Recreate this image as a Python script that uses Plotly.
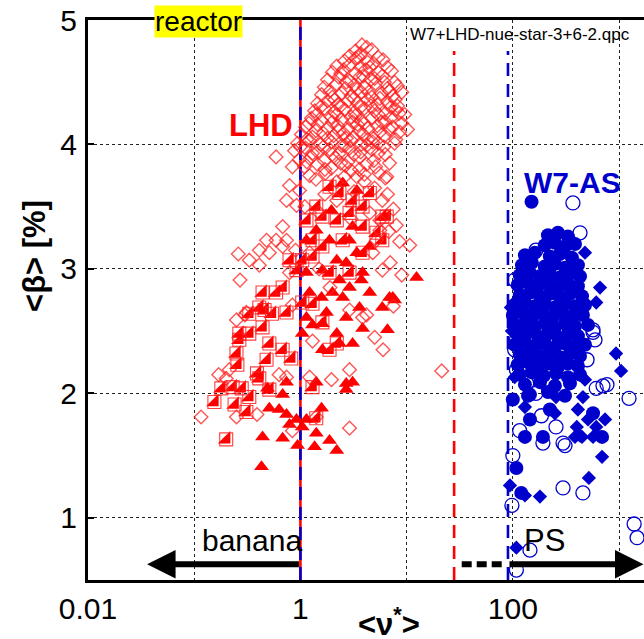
import math
import plotly.graph_objects as go

# ---------------- data (nu*, <beta> [%]) ----------------
lhd_diamonds = [
    (3.8,4.80),(4.2,4.78),(3.3,4.75),(4.7,4.76),(2.9,4.71),(3.7,4.73),(5.4,4.70),
    (2.6,4.67),(3.3,4.69),(4.3,4.66),(6.0,4.68),
    (2.2,4.63),(2.9,4.64),(3.7,4.62),(4.9,4.65),(6.6,4.62),
    (2.0,4.58),(2.55,4.60),(3.3,4.57),(4.1,4.60),(5.4,4.58),(7.2,4.59),
    (1.8,4.52),(2.3,4.54),(2.9,4.51),(3.6,4.54),(4.6,4.52),(5.9,4.55),(7.7,4.50),
    (1.68,4.46),(2.15,4.48),(2.65,4.45),(3.23,4.48),(4.0,4.46),(5.1,4.49),(6.6,4.45),(8.2,4.47),
    (1.58,4.40),(2.0,4.38),(2.45,4.41),(3.0,4.39),(3.75,4.42),(4.7,4.38),(5.8,4.41),(7.4,4.39),(9.0,4.42),
    (1.45,4.33),(1.8,4.35),(2.25,4.32),(2.8,4.35),(3.45,4.33),(4.3,4.36),(5.3,4.32),(6.6,4.34),(8.2,4.31),
    (1.36,4.27),(1.68,4.29),(2.09,4.26),(2.6,4.28),(3.23,4.26),(4.0,4.29),(5.0,4.27),(6.3,4.25),(7.9,4.28),(9.6,4.24),
    (1.27,4.21),(1.58,4.19),(1.96,4.22),(2.45,4.20),(3.0,4.22),(3.75,4.19),(4.7,4.21),(5.8,4.18),(7.2,4.22),(9.0,4.17),
    (1.12,4.14),(1.45,4.16),(1.8,4.13),(2.25,4.15),(2.8,4.12),(3.45,4.16),(4.3,4.13),(5.3,4.15),(6.9,4.12),(8.6,4.10),
    (1.02,4.08),(1.3,4.06),(1.65,4.09),(2.05,4.07),(2.55,4.09),(3.15,4.06),(3.9,4.08),(4.9,4.05),(6.2,4.07),(7.9,4.04),
    (0.94,4.01),(1.22,4.03),(1.55,4.00),(1.96,4.02),(2.45,3.99),(3.0,4.03),(3.75,4.00),(4.8,4.02),(6.1,3.98),(7.7,4.01),
    (0.88,3.95),(1.12,3.97),(1.45,3.94),(1.88,3.96),(2.33,3.93),(2.9,3.97),(3.7,3.94),(4.7,3.96),(6.3,3.92),
    (0.98,3.88),(1.27,3.90),(1.68,3.87),(2.15,3.89),(2.8,3.86),(3.6,3.90),(4.9,3.87),(6.9,3.85),
    (1.09,3.82),(1.45,3.84),(1.96,3.81),(2.65,3.83),(3.6,3.80),(5.1,3.82),
    (1.22,3.75),(1.72,3.77),(2.6,3.74),(4.0,3.76),(6.3,3.73),
    (3.5,4.70),(4.5,4.62),(2.4,4.57),(3.9,4.55),(5.0,4.53),(2.7,4.50),(6.2,4.50),(1.9,4.43),
    (3.4,4.44),(4.4,4.42),(6.9,4.43),(2.1,4.36),(3.2,4.37),(5.6,4.37),(7.8,4.36),(1.55,4.30),
    (2.4,4.31),(3.7,4.30),(4.6,4.31),(7.1,4.30),(1.42,4.24),(2.2,4.24),(3.3,4.23),(5.4,4.24),
    (8.5,4.25),(1.2,4.17),(2.0,4.18),(3.1,4.18),(4.0,4.17),(6.3,4.18),(1.4,4.11),(2.3,4.11),
    (3.6,4.11),(5.6,4.10),(1.15,4.04),(1.8,4.05),(2.7,4.05),(4.3,4.04),(5.4,4.01),(1.0,3.98),
    (1.65,3.98),(2.6,3.99),(4.2,3.99),(1.3,3.93),(2.0,3.92),(3.2,3.92),(5.4,3.93),(1.15,3.86),
    (2.4,3.85),(4.2,3.84),(1.7,3.80),(3.0,3.79),(1.4,3.72),(2.2,3.70),(3.4,3.74),(5.5,3.77),
    (0.59,3.90),(0.79,3.67),(0.84,3.82),(0.98,3.63),(0.74,3.55),(0.92,3.51),
    (8.6,3.22),(10.7,3.19),(6.5,3.74),(5.9,3.55),(7.4,4.14),(10.2,4.12),
    (0.68,3.34),(0.74,3.23),(0.59,3.23),(0.48,3.23),(0.41,3.15),(0.51,3.13),(0.68,3.18),(1.22,3.13),
    (5.2,3.23),(5.6,3.39),(5.6,3.31),(4.8,3.13),(5.9,2.99),(0.27,2.91),(0.31,2.65),(0.25,2.59),(0.79,2.97),
    (2.9,2.67),(3.85,2.61),(0.30,2.63),(0.17,2.15),(0.116,1.81),(2.9,1.72),(21.4,2.18),(2.9,2.19),(1.96,2.11),
    (1.22,2.13),(0.63,2.15),(0.74,2.13),(1.3,2.42),(4.2,2.63),(0.84,2.71),(0.25,1.81),(0.39,1.83),(0.84,1.70),
    (1.41,1.81),(0.20,2.12),(0.214,2.19),(0.41,3.03),(0.33,3.07),(0.26,3.12),
    (4.0,3.70),(5.0,3.65),(6.6,3.60),(7.5,3.48),(3.2,3.62),(2.2,3.55),(1.7,3.60),(8.0,3.35),(6.8,3.30),
    (4.5,3.45),(1.5,3.45),(1.1,3.50),(3.0,3.40),(7.0,3.05),(9.0,2.95),(7.5,2.70),(5.0,2.45),(6.0,2.35),
    (1.9,2.85),(1.5,3.00),(0.9,3.15),
]

lhd_halfsquares = [
    (0.155,1.93),(0.20,1.63),(0.24,1.91),(0.266,2.43),(0.25,2.32),(0.31,1.85),(0.33,2.48),(0.44,2.53),
    (0.51,2.40),(0.46,2.67),(0.74,2.65),(0.68,2.35),(0.82,2.28),(0.255,2.23),(0.28,2.04),(0.18,2.04),
    (0.23,2.05),(0.41,2.12),(0.51,2.03),(0.33,1.97),(1.61,2.57),(1.30,2.72),(1.88,2.35),(2.2,2.40),
    (0.48,2.27),(0.39,2.16),(1.41,1.80),(1.3,2.05),(1.04,2.73),
    (1.41,3.50),(1.88,3.66),(2.33,3.61),(3.1,3.55),(3.85,3.50),(4.5,3.61),(5.9,3.42),(1.61,3.42),
    (1.14,3.39),(1.3,3.23),(1.61,3.18),(2.5,3.23),(2.2,3.39),(2.9,3.45),(3.85,3.34),(1.3,3.10),
    (1.04,3.07),(1.88,2.97),(2.9,2.97),(3.85,3.13),(5.2,3.29),(5.9,3.23),(6.5,3.42),(0.79,3.07),
    (0.92,2.99),(0.59,2.81),(0.68,2.85),(0.44,2.81),(0.41,2.69),(0.54,2.64),(0.33,2.64),(0.266,2.48),
]

lhd_triangles = [
    (0.44,1.65),(0.68,1.64),(0.94,1.58),(1.36,1.57),(1.88,1.62),(2.2,1.54),(1.41,1.68),(0.51,1.88),
    (0.63,1.87),(0.74,1.83),(0.92,1.79),(0.79,1.75),(1.04,1.73),(1.14,1.79),(1.58,1.88),(1.41,2.09),
    (0.74,2.09),(0.68,1.99),(0.49,2.04),(2.7,2.08),(3.1,2.09),(2.7,2.03),(3.1,2.40),(2.33,2.40),
    (3.85,2.52),(6.6,2.51),(5.9,2.69),(3.6,2.69),(7.7,2.75),(1.76,2.65),(1.04,2.48),(1.3,2.55),
    (1.61,2.35),(12.4,2.93),(6.9,2.77),(7.4,2.77),(4.5,2.81),(3.75,2.91),(2.9,2.85),(2.5,2.77),
    (2.0,2.81),(1.58,2.77),(1.14,2.61),(2.7,2.61),(1.61,2.56),(2.2,2.48),(3.85,2.97),(4.5,3.18),
    (2.9,3.23),(3.4,3.13),(3.1,3.34),(1.96,3.47),(1.41,3.31),(1.88,3.23),(1.14,3.23),(1.14,2.97),
    (1.61,2.99),(2.2,3.07),(2.7,3.05),(2.33,2.91),(1.22,2.81),(2.5,3.69),(3.4,3.63),(0.43,1.41),
]

w7_filled_circles = [
    (150,3.54),
    (214,3.27),(266,3.29),(330,3.26),
    (200,3.19),(249,3.21),(310,3.18),(385,3.20),
    (130,3.11),(161,3.13),(223,3.10),(277,3.12),(360,3.09),
    (122,3.03),(151,3.05),(200,3.02),(249,3.04),(310,3.01),(410,3.03),
    (116,2.95),(145,2.97),(180,2.94),(223,2.96),(277,2.93),(345,2.96),(429,2.94),
    (111,2.87),(139,2.89),(172,2.86),(214,2.88),(266,2.85),(330,2.88),(410,2.86),
    (116,2.79),(145,2.81),(180,2.78),(223,2.80),(277,2.77),(345,2.80),(448,2.78),
    (104,2.71),(130,2.73),(161,2.70),(200,2.72),(249,2.69),(310,2.72),(385,2.70),(478,2.71),
    (100,2.63),(124,2.65),(154,2.62),(192,2.64),(238,2.61),(297,2.64),(368,2.62),(457,2.63),
    (104,2.55),(130,2.57),(161,2.54),(200,2.56),(249,2.53),(310,2.56),(385,2.54),(510,2.55),
    (111,2.47),(139,2.49),(172,2.46),(214,2.48),(266,2.45),(330,2.48),(410,2.46),
    (104,2.39),(130,2.41),(161,2.38),(200,2.40),(249,2.37),(310,2.40),(385,2.38),(478,2.39),
    (116,2.31),(145,2.33),(180,2.30),(223,2.32),(277,2.29),(345,2.32),(429,2.30),
    (111,2.23),(139,2.25),(172,2.22),(214,2.24),(266,2.21),(330,2.24),(410,2.22),
    (116,2.15),(151,2.17),(195,2.14),(255,2.16),(330,2.13),(429,2.15),
    (130,2.07),(180,2.09),(249,2.06),(345,2.08),
    (145,1.99),(214,2.01),(310,1.98),
    (100,1.95),(139,1.98),(145,1.79),(130,1.65),(223,1.87),(192,1.65),(569,1.84),(692,1.65),
    (108,1.40),(120,1.20),
]

w7_open_circles = [
    (368,3.53),(165,3.15),(104,2.91),(108,2.43),(104,2.35),(345,2.57),(569,2.49),(594,2.43),
    (500,2.27),(770,2.07),(610,2.04),(135,2.08),(165,2.00),(186,1.82),(255,1.73),(297,1.60),
    (192,1.60),(124,2.29),(154,2.24),(108,2.19),(400,2.40),(345,2.99),(429,3.29),(569,2.51),
    (706,2.06),(1242,1.96),(310,1.58),(297,1.24),(457,1.20),(1387,0.95),(1479,0.84),
    (108,0.58),(100,1.50),(116,1.70),(98,1.10),(145,0.74),
]

w7_diamonds = [
    (478,3.13),(662,2.85),(610,2.73),(104,2.73),(98,2.50),(116,2.51),(104,2.13),(130,1.89),
    (255,1.97),(410,1.87),(457,1.97),(400,1.73),(510,1.79),(738,1.79),(385,1.65),(448,1.65),
    (610,1.73),(249,1.84),(937,2.32),(1045,2.18),(478,2.11),(692,1.49),(520,1.32),(429,1.66),
    (569,1.65),(94,1.26),(130,1.18),(180,1.17),(108,0.76),(96,2.69),
]

# reference collisionality lines
nu_banana = 1.0
nu_lhd_ps = 28.0
nu_w7_ps = 90.0
arrow_level = 0.627

x_ticks = [0.01, 1, 100]
x_minor = [0.1, 10, 1000]
y_ticks = [1, 2, 3, 4, 5]

RED = "rgb(255,0,0)"
BLUE = "rgb(0,0,205)"

def xs(pts):
    return [p[0] for p in pts]

def ys(pts):
    return [p[1] for p in pts]

fig = go.Figure()

# vertical reference lines
fig.add_trace(go.Scatter(x=[nu_banana, nu_banana], y=[0.5, 5], mode="lines",
                         line=dict(color=RED, width=2.6), hoverinfo="skip"))
fig.add_trace(go.Scatter(x=[nu_banana, nu_banana], y=[0.5, 5], mode="lines",
                         line=dict(color=BLUE, width=2.6, dash="13px,7px"), hoverinfo="skip"))
fig.add_trace(go.Scatter(x=[nu_lhd_ps, nu_lhd_ps], y=[0.5, 4.75], mode="lines",
                         line=dict(color=RED, width=2.6, dash="13px,8px"), hoverinfo="skip"))
fig.add_trace(go.Scatter(x=[nu_w7_ps, nu_w7_ps], y=[0.5, 4.75], mode="lines",
                         line=dict(color=BLUE, width=2.6, dash="13px,8px"), hoverinfo="skip"))

# LHD
fig.add_trace(go.Scatter(x=xs(lhd_halfsquares), y=ys(lhd_halfsquares), mode="markers",
                         marker=dict(symbol="triangle-se", size=14, color=RED, line=dict(width=0))))
fig.add_trace(go.Scatter(x=xs(lhd_halfsquares), y=ys(lhd_halfsquares), mode="markers",
                         marker=dict(symbol="square-open", size=13, color="rgba(255,30,30,0.85)",
                                     line=dict(width=1.1))))
fig.add_trace(go.Scatter(x=xs(lhd_triangles), y=ys(lhd_triangles), mode="markers",
                         marker=dict(symbol="triangle-up", size=13, color=RED, line=dict(width=0))))
fig.add_trace(go.Scatter(x=xs(lhd_diamonds), y=ys(lhd_diamonds), mode="markers",
                         marker=dict(symbol="diamond-open", size=10.5, color="rgba(255,30,30,0.75)",
                                     line=dict(width=1.4))))

# W7-AS
fig.add_trace(go.Scatter(x=xs(w7_filled_circles), y=ys(w7_filled_circles), mode="markers",
                         marker=dict(symbol="circle", size=14, color=BLUE, line=dict(width=0))))
fig.add_trace(go.Scatter(x=xs(w7_diamonds), y=ys(w7_diamonds), mode="markers",
                         marker=dict(symbol="diamond", size=11, color=BLUE, line=dict(width=0))))
fig.add_trace(go.Scatter(x=xs(w7_open_circles), y=ys(w7_open_circles), mode="markers",
                         marker=dict(symbol="circle-open", size=14, color=BLUE, line=dict(width=1.3))))

# dotted connector between regimes
fig.add_trace(go.Scatter(x=[33, 79], y=[arrow_level, arrow_level], mode="lines",
                         line=dict(color="black", width=6, dash="10px,5px"), hoverinfo="skip"))

L = math.log10
anns = [
    dict(x=L(0.036), y=arrow_level, ax=L(nu_banana), ay=arrow_level, xref="x", yref="y",
         axref="x", ayref="y", showarrow=True, arrowhead=2, arrowsize=0.95, arrowwidth=6,
         arrowcolor="black", text=""),
    dict(x=L(1700), y=arrow_level, ax=L(nu_w7_ps), ay=arrow_level, xref="x", yref="y",
         axref="x", ayref="y", showarrow=True, arrowhead=2, arrowsize=0.95, arrowwidth=6,
         arrowcolor="black", text=""),
    dict(x=L(0.35), y=0.82, xref="x", yref="y", text="banana", showarrow=False,
         font=dict(size=30, color="black")),
    dict(x=L(200), y=0.82, xref="x", yref="y", text="PS", showarrow=False,
         font=dict(size=31, color="black")),
    dict(x=L(0.43), y=4.156, xref="x", yref="y", text="<b>LHD</b>", showarrow=False,
         font=dict(size=31, color=RED)),
    dict(x=L(368), y=3.698, xref="x", yref="y", text="<b>W7-AS</b>", showarrow=False,
         font=dict(size=30, color=BLUE)),
    dict(x=L(0.109), y=4.99, xref="x", yref="y", text="reactor", showarrow=False,
         font=dict(size=28, color="black"), bgcolor="#ffff00", borderpad=0),
    dict(x=L(116), y=4.88, xref="x", yref="y", text="W7+LHD-nue-star-3+6-2.qpc",
         showarrow=False, font=dict(size=17, color="black")),
    dict(x=-0.095, y=0.579, xref="paper", yref="paper", xanchor="center", yanchor="middle",
         text="<b>&lt;β&gt; [%]</b>", textangle=-90, showarrow=False,
         font=dict(size=31, color="black")),
    dict(x=0.541, y=-0.036, xref="paper", yref="paper", xanchor="center", yanchor="top",
         text="<b>&lt;ν<sup>*</sup>&gt;</b>", showarrow=False,
         font=dict(size=31, color="black")),
]

fig.update_layout(
    width=644, height=639,
    margin=dict(l=88, r=0, t=20, b=59),
    plot_bgcolor="white", paper_bgcolor="white",
    showlegend=False,
    font=dict(family="Liberation Sans, Arial, sans-serif", color="black"),
    annotations=anns,
)
fig.update_xaxes(
    type="log", range=[-2, 3.235],
    tickmode="array", tickvals=x_ticks, ticktext=["0.01", "1", "100"],
    showgrid=True, gridcolor="#222", griddash="dot", gridwidth=1,
    minor=dict(tickmode="array", tickvals=x_minor, showgrid=True, gridcolor="#222",
               griddash="dot", gridwidth=1, ticks=""),
    showline=True, linecolor="black", linewidth=3, mirror=True,
    ticks="", tickfont=dict(size=30), ticklabelstandoff=0, zeroline=False,
)
fig.update_yaxes(
    range=[0.5, 5], tickmode="array", tickvals=y_ticks,
    showgrid=True, gridcolor="#222", griddash="dot", gridwidth=1,
    showline=True, linecolor="black", linewidth=3, mirror=False,
    ticks="inside", ticklen=6, tickwidth=1.5, tickcolor="black",
    tickfont=dict(size=30), ticklabelstandoff=2, zeroline=False,
)

fig.write_html("out.html", config={"displayModeBar": False},
               post_script="document.body.style.margin='0px';")
